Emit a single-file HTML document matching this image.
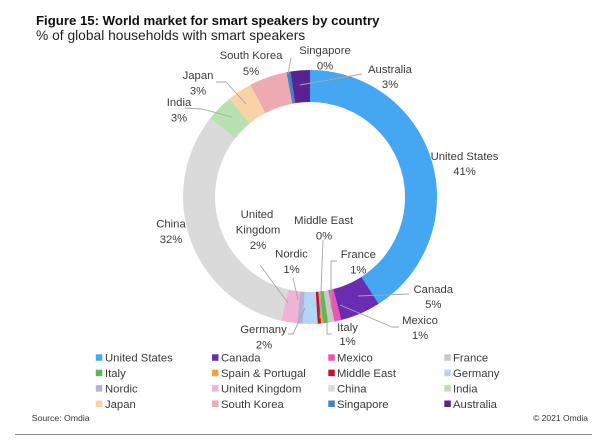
<!DOCTYPE html>
<html>
<head>
<meta charset="utf-8">
<style>
  html, body { margin: 0; padding: 0; background: #ffffff; }
  body { width: 601px; height: 446px; overflow: hidden; }
  svg { display: block; }
  text { font-family: "Liberation Sans", Arial, sans-serif; }
  .lbl { font-size: 11.3px; fill: #3a3a3a; text-anchor: middle; }
  .leg { font-size: 11.3px; fill: #3a3a3a; }
  .ld { fill: none; stroke: #a6a6a6; stroke-width: 0.9; }
</style>
</head>
<body>
<svg width="601" height="446" viewBox="0 0 601 446" xmlns="http://www.w3.org/2000/svg">
  <rect x="0" y="0" width="601" height="446" fill="#ffffff"/>

  <!-- Title -->
  <text x="36" y="25" style="font-size:13.2px;font-weight:bold;fill:#111;">Figure 15: World market for smart speakers by country</text>
  <text x="36" y="40" style="font-size:13.8px;fill:#222;">% of global households with smart speakers</text>

  <!-- Doughnut: r=111, width 32, circumference 697.43 -->
  <g transform="rotate(-90 310 197)" fill="none" stroke-width="32">
    <circle cx="310" cy="197" r="111" stroke="#45a6f2" stroke-dasharray="285.6 697.43" stroke-dashoffset="0"/>
    <circle cx="310" cy="197" r="111" stroke="#6a2db2" stroke-dasharray="35.9 697.43" stroke-dashoffset="-285.25"/>
    <circle cx="310" cy="197" r="111" stroke="#e956b8" stroke-dasharray="6.6 697.43" stroke-dashoffset="-320.82"/>
    <circle cx="310" cy="197" r="111" stroke="#c9c9c9" stroke-dasharray="5.9 697.43" stroke-dashoffset="-327.10"/>
    <circle cx="310" cy="197" r="111" stroke="#5cb85c" stroke-dasharray="4.5 697.43" stroke-dashoffset="-332.67"/>
    <circle cx="310" cy="197" r="111" stroke="#f0a830" stroke-dasharray="2.4 697.43" stroke-dashoffset="-336.86"/>
    <circle cx="310" cy="197" r="111" stroke="#c8102e" stroke-dasharray="3.1 697.43" stroke-dashoffset="-338.95"/>
    <circle cx="310" cy="197" r="111" stroke="#b5d5f5" stroke-dasharray="13.6 697.43" stroke-dashoffset="-341.74"/>
    <circle cx="310" cy="197" r="111" stroke="#b3b0d9" stroke-dasharray="5.2 697.43" stroke-dashoffset="-354.99"/>
    <circle cx="310" cy="197" r="111" stroke="#f0b3d6" stroke-dasharray="14.3 697.43" stroke-dashoffset="-359.87"/>
    <circle cx="310" cy="197" r="111" stroke="#dadada" stroke-dasharray="223.5 697.43" stroke-dashoffset="-373.82"/>
    <circle cx="310" cy="197" r="111" stroke="#b9e0b0" stroke-dasharray="24.0 697.43" stroke-dashoffset="-597.00"/>
    <circle cx="310" cy="197" r="111" stroke="#f9d3a8" stroke-dasharray="22.6 697.43" stroke-dashoffset="-620.71"/>
    <circle cx="310" cy="197" r="111" stroke="#eeaab2" stroke-dasharray="33.8 697.43" stroke-dashoffset="-643.03"/>
    <circle cx="310" cy="197" r="111" stroke="#3d85c6" stroke-dasharray="3.8 697.43" stroke-dashoffset="-676.51"/>
    <circle cx="310" cy="197" r="111" stroke="#5b2391" stroke-dasharray="17.43 697.43" stroke-dashoffset="-680.00"/>
  </g>

  <!-- Leader lines -->
  <polyline class="ld" points="300,85 362,74"/>
  <polyline class="ld" points="291,58 288,74"/>
  <polyline class="ld" points="216,82 226,82 246,104"/>
  <polyline class="ld" points="185,108 202,109 232,117"/>
  <polyline class="ld" points="358,296 409,294"/>
  <polyline class="ld" points="340,305 392,327 399,327"/>
  <polyline class="ld" points="337,261 331,261 331,309"/>
  <polyline class="ld" points="327,321 327,334 332,334"/>
  <polyline class="ld" points="323,240 320,318"/>
  <polyline class="ld" points="293,278 298,300"/>
  <polyline class="ld" points="260,265 288,303"/>
  <polyline class="ld" points="288,334 293,334 305,308"/>

  <!-- Data labels -->
  <text class="lbl" x="325" y="54">Singapore</text>
  <text class="lbl" x="325" y="69.5">0%</text>
  <text class="lbl" x="251" y="59">South Korea</text>
  <text class="lbl" x="251" y="75">5%</text>
  <text class="lbl" x="198" y="79">Japan</text>
  <text class="lbl" x="198" y="94.5">3%</text>
  <text class="lbl" x="179" y="106">India</text>
  <text class="lbl" x="179" y="121.5">3%</text>
  <text class="lbl" x="390" y="73">Australia</text>
  <text class="lbl" x="390" y="88">3%</text>
  <text class="lbl" x="464.5" y="160">United States</text>
  <text class="lbl" x="464.5" y="175">41%</text>
  <text class="lbl" x="171" y="227.5">China</text>
  <text class="lbl" x="171" y="243">32%</text>
  <text class="lbl" x="257" y="218">United</text>
  <text class="lbl" x="258" y="233.5">Kingdom</text>
  <text class="lbl" x="258" y="249">2%</text>
  <text class="lbl" x="291.5" y="257.5">Nordic</text>
  <text class="lbl" x="291.5" y="273">1%</text>
  <text class="lbl" x="323.7" y="224">Middle East</text>
  <text class="lbl" x="324" y="239.5">0%</text>
  <text class="lbl" x="358.3" y="258">France</text>
  <text class="lbl" x="358.3" y="273.5">1%</text>
  <text class="lbl" x="433.3" y="293">Canada</text>
  <text class="lbl" x="433.3" y="308">5%</text>
  <text class="lbl" x="420" y="324">Mexico</text>
  <text class="lbl" x="420" y="339">1%</text>
  <text class="lbl" x="347.5" y="331">Italy</text>
  <text class="lbl" x="347.5" y="345">1%</text>
  <text class="lbl" x="263.5" y="333">Germany</text>
  <text class="lbl" x="264" y="348.5">2%</text>

  <!-- Legend -->
  <g>
    <rect x="95.8" y="354.3" width="6.5" height="6.5" fill="#45a6f2"/>
    <text class="leg" x="105" y="361.7">United States</text>
    <rect x="212" y="354.3" width="6.5" height="6.5" fill="#6a2db2"/>
    <text class="leg" x="221" y="361.7">Canada</text>
    <rect x="328.3" y="354.3" width="6.5" height="6.5" fill="#e956b8"/>
    <text class="leg" x="337" y="361.7">Mexico</text>
    <rect x="444.3" y="354.3" width="6.5" height="6.5" fill="#c9c9c9"/>
    <text class="leg" x="453" y="361.7">France</text>

    <rect x="95.8" y="369.7" width="6.5" height="6.5" fill="#5cb85c"/>
    <text class="leg" x="105" y="377.1">Italy</text>
    <rect x="212" y="369.7" width="6.5" height="6.5" fill="#f0a830"/>
    <text class="leg" x="221" y="377.1">Spain &amp; Portugal</text>
    <rect x="328.3" y="369.7" width="6.5" height="6.5" fill="#c8102e"/>
    <text class="leg" x="337" y="377.1">Middle East</text>
    <rect x="444.3" y="369.7" width="6.5" height="6.5" fill="#b5d5f5"/>
    <text class="leg" x="453" y="377.1">Germany</text>

    <rect x="95.8" y="385.1" width="6.5" height="6.5" fill="#b3b0d9"/>
    <text class="leg" x="105" y="392.5">Nordic</text>
    <rect x="212" y="385.1" width="6.5" height="6.5" fill="#f0b3d6"/>
    <text class="leg" x="221" y="392.5">United Kingdom</text>
    <rect x="328.3" y="385.1" width="6.5" height="6.5" fill="#dadada"/>
    <text class="leg" x="337" y="392.5">China</text>
    <rect x="444.3" y="385.1" width="6.5" height="6.5" fill="#b9e0b0"/>
    <text class="leg" x="453" y="392.5">India</text>

    <rect x="95.8" y="400.5" width="6.5" height="6.5" fill="#f9d3a8"/>
    <text class="leg" x="105" y="407.9">Japan</text>
    <rect x="212" y="400.5" width="6.5" height="6.5" fill="#eeaab2"/>
    <text class="leg" x="221" y="407.9">South Korea</text>
    <rect x="328.3" y="400.5" width="6.5" height="6.5" fill="#3d85c6"/>
    <text class="leg" x="337" y="407.9">Singapore</text>
    <rect x="444.3" y="400.5" width="6.5" height="6.5" fill="#5b2391"/>
    <text class="leg" x="453" y="407.9">Australia</text>
  </g>

  <!-- Footer -->
  <text x="31.7" y="421" style="font-size:8.7px;fill:#333;">Source: Omdia</text>
  <text x="588" y="421" style="font-size:8.5px;fill:#333;text-anchor:end;">© 2021 Omdia</text>
  <line x1="15" y1="434.5" x2="592" y2="434.5" stroke="#8c8c8c" stroke-width="1"/>
</svg>
</body>
</html>
